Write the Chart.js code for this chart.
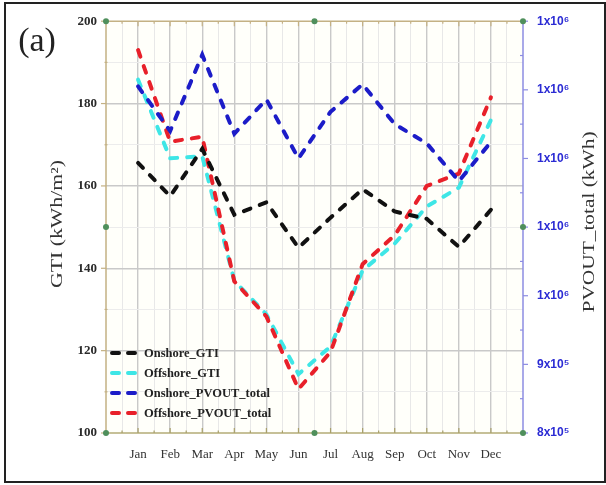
<!DOCTYPE html>
<html>
<head>
<meta charset="utf-8">
<script src="https://cdn.jsdelivr.net/npm/chart.js@4"></script>
<style>
  body { margin: 0; background: #fff; }
  canvas { display: block; }
</style>
</head>
<body>
<canvas id="myChart" width="606" height="485"></canvas>
<script>
const months = ['Jan', 'Feb', 'Mar', 'Apr', 'May', 'Jun', 'Jul', 'Aug', 'Sep', 'Oct', 'Nov', 'Dec'];

// left axis, kWh/m2
const onshoreGTI  = [165.6, 157.5, 169.0, 153.0, 156.0, 145.0, 152.3, 159.2, 153.8, 152.0, 145.2, 154.2];
const offshoreGTI = [185.8, 166.7, 167.2, 137.0, 128.8, 114.3, 121.0, 139.5, 146.0, 155.0, 159.6, 176.0];

// right axis, kWh
const onshorePV  = [1305000, 1240000, 1351000, 1236000, 1286000, 1200000, 1268000, 1308000, 1250000, 1222000, 1167000, 1224000];
const offshorePV = [1358000, 1224500, 1231600, 1021000, 970000, 864000, 918000, 1046000, 1088000, 1160000, 1178000, 1289000];

const serif = '"Liberation Serif", "Times New Roman", serif';
const sans = '"Liberation Sans", Arial, sans-serif';

const pts = vals => vals.map((v, i) => ({ x: i + 1, y: v }));

const line = (label, vals, color, axis, order) => ({
  label,
  data: pts(vals),
  yAxisID: axis,
  borderColor: color,
  borderWidth: 4,
  borderDash: [7, 10],
  borderCapStyle: 'round',
  pointRadius: 0,
  tension: 0,
  fill: false,
  order
});

function drawStretched(ctx, text, cx, cy, len, font, color) {
  ctx.save();
  ctx.font = font;
  const w = ctx.measureText(text).width;
  ctx.translate(cx, cy);
  ctx.rotate(-Math.PI / 2);
  ctx.scale(len / w, 1);
  ctx.fillStyle = color;
  ctx.textAlign = 'center';
  ctx.textBaseline = 'middle';
  ctx.fillText(text, 0, 0);
  ctx.restore();
}

const decorations = {
  id: 'decorations',
  beforeDraw(chart) {
    const { ctx, chartArea: a } = chart;
    ctx.save();
    ctx.fillStyle = '#fffffa';
    ctx.fillRect(a.left, a.top, a.right - a.left, a.bottom - a.top);
    ctx.restore();
  },
  afterDraw(chart) {
    const { ctx, chartArea: a, scales } = chart;
    ctx.save();

    // outer frame
    ctx.strokeStyle = '#222';
    ctx.lineWidth = 2;
    ctx.strokeRect(5, 3, 600, 479);

    // axis lines
    const tan = '#c4b184';
    ctx.lineWidth = 1.5;
    ctx.strokeStyle = tan;
    ctx.beginPath();
    ctx.moveTo(a.left, a.bottom); ctx.lineTo(a.left, a.top); ctx.lineTo(a.right, a.top);
    ctx.stroke();
    ctx.strokeStyle = '#b3ab76';
    ctx.beginPath(); ctx.moveTo(a.left, a.bottom); ctx.lineTo(a.right, a.bottom); ctx.stroke();
    ctx.strokeStyle = '#8c8ce2';
    ctx.beginPath(); ctx.moveTo(a.right, a.top); ctx.lineTo(a.right, a.bottom); ctx.stroke();

    // x tick marks on top and bottom
    ctx.lineWidth = 1.2;
    for (let v = 0.5; v < 13; v += 0.5) {
      const x = scales.x.getPixelForValue(v);
      const len = Number.isInteger(v) ? 5 : 2.5;
      ctx.strokeStyle = tan;
      ctx.beginPath(); ctx.moveTo(x, a.top); ctx.lineTo(x, a.top + len); ctx.stroke();
      ctx.strokeStyle = '#a9a06a';
      ctx.beginPath(); ctx.moveTo(x, a.bottom); ctx.lineTo(x, a.bottom - len); ctx.stroke();
    }
    // left ticks
    ctx.strokeStyle = tan;
    for (let v = 110; v < 200; v += 10) {
      const y = scales.y.getPixelForValue(v);
      ctx.beginPath();
      if (v % 20 === 0) { ctx.moveTo(a.left - 5, y); ctx.lineTo(a.left, y); }
      else { ctx.moveTo(a.left - 1.5, y); ctx.lineTo(a.left + 1.5, y); }
      ctx.stroke();
    }
    ctx.beginPath(); ctx.moveTo(a.left - 5, a.top); ctx.lineTo(a.left, a.top); ctx.stroke();
    ctx.beginPath(); ctx.moveTo(a.left - 5, a.bottom); ctx.lineTo(a.left, a.bottom); ctx.stroke();
    // right ticks
    ctx.strokeStyle = '#8c8ce2';
    for (let v = 800000; v <= 1400000; v += 50000) {
      const y = scales.y1.getPixelForValue(v);
      ctx.beginPath();
      if (v % 100000 === 0) { ctx.moveTo(a.right, y); ctx.lineTo(a.right + 5, y); }
      else { ctx.moveTo(a.right - 3, y); ctx.lineTo(a.right, y); }
      ctx.stroke();
    }

    // green markers at corners and mid points
    const mx = (a.left + a.right) / 2, my = (a.top + a.bottom) / 2;
    ctx.fillStyle = '#4f8f5c';
    [[a.left, a.top], [mx, a.top], [a.right, a.top], [a.left, my], [a.right, my],
     [a.left, a.bottom], [mx, a.bottom], [a.right, a.bottom]].forEach(([x, y]) => {
      ctx.beginPath(); ctx.arc(x, y, 3, 0, Math.PI * 2); ctx.fill();
    });

    // axis titles
    drawStretched(ctx, 'GTI (kWh/m\u00B2)', 58, 224, 128, '16px ' + serif, '#333');
    drawStretched(ctx, 'PVOUT_total (kWh)', 590, 222, 181, '16px ' + serif, '#333');

    // panel label
    ctx.fillStyle = '#222';
    ctx.font = '34px ' + serif;
    ctx.textAlign = 'center';
    ctx.textBaseline = 'middle';
    ctx.fillText('(a)', 37, 42);

    // legend
    ctx.textAlign = 'left';
    ctx.font = 'bold 12.5px ' + serif;
    chart.data.datasets.forEach((ds, i) => {
      const y = a.bottom - 80 + i * 20;
      ctx.setLineDash([7, 9]);
      ctx.lineCap = 'round';
      ctx.lineWidth = 4;
      ctx.strokeStyle = ds.borderColor;
      ctx.beginPath(); ctx.moveTo(a.left + 6, y); ctx.lineTo(a.left + 30, y); ctx.stroke();
      ctx.setLineDash([]);
      ctx.fillStyle = '#222';
      ctx.fillText(ds.label, a.left + 38, y + 1);
    });
    ctx.restore();
  }
};

const data = {
  datasets: [
    line('Onshore_GTI', onshoreGTI, '#111111', 'y', 1),
    line('Offshore_GTI', offshoreGTI, '#3ee6e6', 'y', 3),
    line('Onshore_PVOUT_total', onshorePV, '#1c1cc8', 'y1', 0),
    line('Offshore_PVOUT_total', offshorePV, '#e8202a', 'y1', 2)
  ]
};

const config = {
  type: 'line',
  data: data,
  options: {
    responsive: false,
    animation: false,
    layout: { padding: { top: 16, left: 0, right: 0, bottom: 0 } },
    plugins: { legend: { display: false }, tooltip: { enabled: false } },
    scales: {
      x: {
        type: 'linear',
        min: 0,
        max: 13,
        afterFit: s => { s.height = 52; },
        border: { display: false },
        grid: {
          drawTicks: false,
          color: c => {
            const v = c.tick.value;
            if (v <= 0 || v >= 13) return 'rgba(0,0,0,0)';
            return Number.isInteger(v) ? '#c9c9c9' : '#e8e8e8';
          },
          lineWidth: c => Number.isInteger(c.tick.value) ? 1.4 : 1
        },
        ticks: {
          stepSize: 0.5,
          maxTicksLimit: 100,
          autoSkip: false,
          maxRotation: 0,
          padding: 14,
          color: '#333',
          font: { family: serif, size: 13 },
          callback: v => (Number.isInteger(v) && v >= 1 && v <= 12) ? months[v - 1] : ''
        }
      },
      y: {
        position: 'left',
        min: 100,
        max: 200,
        afterFit: s => { s.width = 106; },
        border: { display: false },
        grid: {
          drawTicks: false,
          color: c => {
            const v = c.tick.value;
            if (v <= 100 || v >= 200) return 'rgba(0,0,0,0)';
            return v % 20 === 0 ? '#c9c9c9' : '#ececec';
          },
          lineWidth: c => c.tick.value % 20 === 0 ? 1.4 : 1
        },
        ticks: {
          stepSize: 10,
          autoSkip: false,
          padding: 9,
          color: '#2a2a2a',
          font: { family: serif, size: 13, weight: 'bold' },
          callback: v => v % 20 === 0 ? v : ''
        }
      },
      y1: {
        position: 'right',
        min: 800000,
        max: 1400000,
        afterFit: s => { s.width = 83; },
        border: { display: false },
        grid: { display: false, drawTicks: false },
        ticks: {
          stepSize: 50000,
          autoSkip: false,
          padding: 14,
          color: '#2b2bd4',
          font: { family: sans, size: 12, weight: 'bold' },
          callback: v => {
            if (Math.round(v / 50000) % 2 !== 0) return '';
            return v < 1000000 ? Math.round(v / 100000) + 'x10\u2075' : '1x10\u2076';
          }
        }
      }
    }
  },
  plugins: [decorations]
};

const myChart = new Chart(document.getElementById('myChart').getContext('2d'), config);
</script>
</body>
</html>
